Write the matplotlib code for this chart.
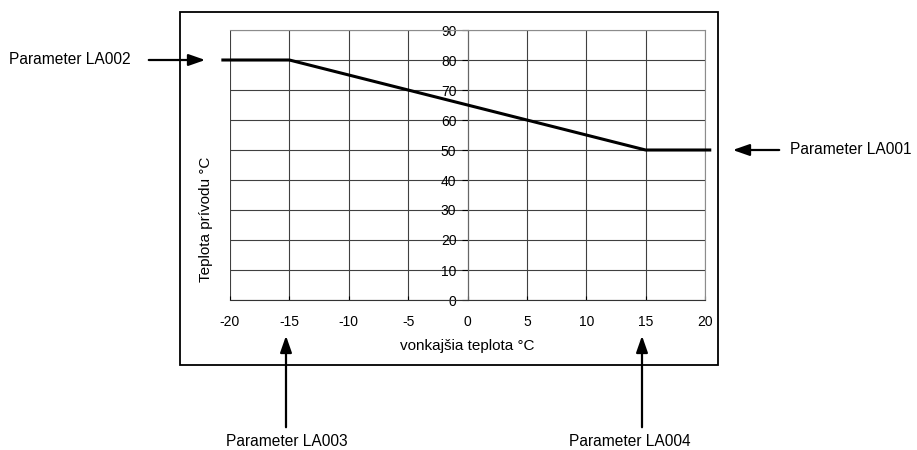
import matplotlib.pyplot as plt
from matplotlib.patches import Rectangle

plt.rcParams['font.family'] = ['Liberation Sans', 'DejaVu Sans']
plt.rcParams['axes.unicode_minus'] = False

# heating curve (outside temp -> flow temp)
outside_temp = [-20.6, -15, -10, -5, 0, 5, 10, 15, 20.4]
flow_temp = [80, 80, 75, 70, 65, 60, 55, 50, 50]
x_ticks = [-20, -15, -10, -5, 0, 5, 10, 15, 20]
y_ticks = [0, 10, 20, 30, 40, 50, 60, 70, 80, 90]

W, H = 917, 450
fig = plt.figure(figsize=(W / 100, H / 100), dpi=100)

# outer frame around the chart
fig.patches.append(Rectangle((180 / W, 1 - 365 / H), 538 / W, 353 / H,
                             transform=fig.transFigure, fill=False,
                             edgecolor='black', lw=1.3))

ax = fig.add_axes([230 / W, 1 - 300 / H, 475 / W, 270 / H])
ax.set_xlim(-20, 20)
ax.set_ylim(0, 90)
ax.set_xticks(x_ticks)
ax.set_yticks(y_ticks)
ax.grid(True, color='0.25', lw=0.8)
ax.set_axisbelow(True)

ax.plot(outside_temp, flow_temp, color='black', lw=2.2, clip_on=False, zorder=5)

ax.spines['left'].set_position(('data', 0))
ax.spines['left'].set_color('0.4')
ax.spines['top'].set_color('0.55')
ax.spines['right'].set_color('0.55')
ax.spines['bottom'].set_color('0.2')
ax.tick_params(axis='y', direction='out', length=4, pad=4, labelsize=10)
ax.tick_params(axis='x', direction='in', length=3, pad=11, labelsize=10)
ax.set_xlabel('vonkajšia teplota °C', fontsize=11, labelpad=7)

fig.text(206 / W, 1 - 219 / H, 'Teplota prívodu °C', rotation=90,
         ha='center', va='center', fontsize=11)

# parameter callouts
arrow = dict(arrowstyle='-|>,head_length=1.0,head_width=0.35', color='black', lw=1.6)
fs = 11.2
ax.annotate('', xy=(208 / W, 1 - 60 / H), xytext=(146 / W, 1 - 60 / H),
            xycoords='figure fraction', arrowprops=arrow)
fig.text(9 / W, 1 - 60 / H, 'Parameter LA002', ha='left', va='center', fontsize=fs)

ax.annotate('', xy=(730 / W, 1 - 150 / H), xytext=(782 / W, 1 - 150 / H),
            xycoords='figure fraction', arrowprops=arrow)
fig.text(790 / W, 1 - 150 / H, 'Parameter LA001', ha='left', va='center', fontsize=fs)

ax.annotate('', xy=(286 / W, 1 - 333 / H), xytext=(286 / W, 1 - 430 / H),
            xycoords='figure fraction', arrowprops=arrow)
fig.text(287 / W, 1 - 441 / H, 'Parameter LA003', ha='center', va='center', fontsize=fs)

ax.annotate('', xy=(642 / W, 1 - 333 / H), xytext=(642 / W, 1 - 430 / H),
            xycoords='figure fraction', arrowprops=arrow)
fig.text(630 / W, 1 - 441 / H, 'Parameter LA004', ha='center', va='center', fontsize=fs)

fig.savefig('out.png', dpi=100)
